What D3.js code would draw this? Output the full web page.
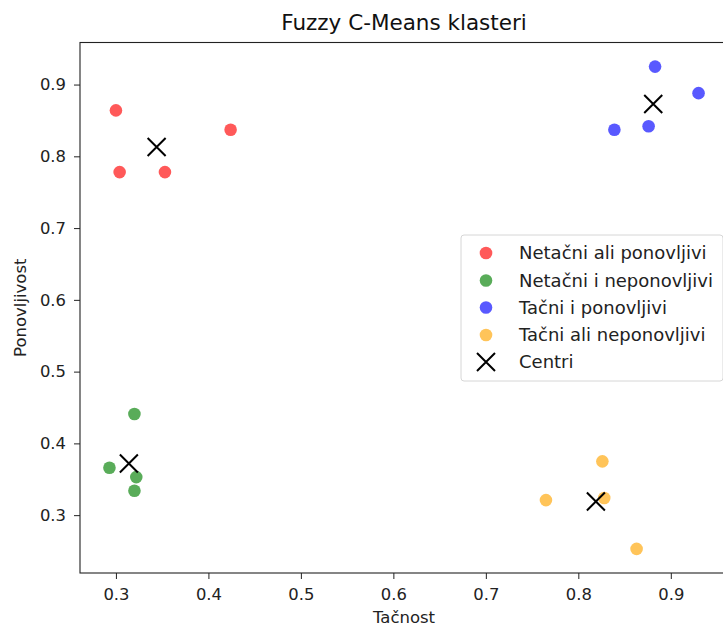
<!DOCTYPE html>
<html>
<head>
<meta charset="utf-8">
<script src="https://cdn.jsdelivr.net/npm/d3@7/dist/d3.min.js"></script>
<style>
  html, body { margin: 0; padding: 0; background: #fff; }
  svg { display: block; font-family: "DejaVu Sans", sans-serif; }
</style>
</head>
<body>
<svg id="chart" width="723" height="627"></svg>
<script>
// ---- Data ----
const categories = ["Netačni ali ponovljivi", "Netačni i neponovljivi", "Tačni i ponovljivi", "Tačni ali neponovljivi"];
const colors = ["#ff0000", "#008000", "#0000ff", "#ffa500"];

const redX = [0.300, 0.304, 0.353, 0.424];
const redY = [0.864, 0.778, 0.778, 0.837];
const greenX = [0.320, 0.293, 0.322, 0.320];
const greenY = [0.441, 0.366, 0.353, 0.334];
const blueX = [0.883, 0.930, 0.839, 0.876];
const blueY = [0.925, 0.888, 0.837, 0.842];
const orangeX = [0.826, 0.765, 0.828, 0.863];
const orangeY = [0.375, 0.321, 0.324, 0.253];

const centerX = [0.344, 0.314, 0.881, 0.819];
const centerY = [0.813, 0.372, 0.873, 0.319];
const centerLabel = "Centri";

const xTicks = [0.3, 0.4, 0.5, 0.6, 0.7, 0.8, 0.9];
const yTicks = [0.3, 0.4, 0.5, 0.6, 0.7, 0.8, 0.9];

const title = "Fuzzy C-Means klasteri";
const xLabel = "Tačnost";
const yLabel = "Ponovljivost";

// ---- Layout ----
const svg = d3.select("#chart");
const mLeft = 80, mTop = 42.5, mRight = 728, mBottom = 573;
const tickFont = 16.4, labelFont = 16.5, legendFont = 18, titleFont = 21.5;

const seriesX = [redX, greenX, blueX, orangeX];
const seriesY = [redY, greenY, blueY, orangeY];
const allX = seriesX.flat(), allY = seriesY.flat();
const [xmin, xmax] = d3.extent(allX), [ymin, ymax] = d3.extent(allY);
const xm = (xmax - xmin) * 0.05, ym = (ymax - ymin) * 0.05;

const x = d3.scaleLinear().domain([xmin - xm, xmax + xm]).range([mLeft, mRight]);
const y = d3.scaleLinear().domain([ymin - ym, ymax + ym]).range([mBottom, mTop]);

// points
const gPts = svg.append("g");
seriesX.forEach((xs, i) => {
  const pts = xs.map((v, j) => ({x: v, y: seriesY[i][j]}));
  gPts.selectAll(null).data(pts).enter().append("circle")
    .attr("cx", d => x(d.x)).attr("cy", d => y(d.y)).attr("r", 6.3)
    .attr("fill", colors[i]).attr("fill-opacity", 0.65);
});

// centers
const cs = 9;
const centers = centerX.map((v, j) => ({x: v, y: centerY[j]}));
const gC = svg.append("g");
centers.forEach(d => {
  const cx = x(d.x), cy = y(d.y);
  gC.append("path")
    .attr("d", `M${cx - cs},${cy - cs}L${cx + cs},${cy + cs}M${cx - cs},${cy + cs}L${cx + cs},${cy - cs}`)
    .attr("stroke", "#000").attr("stroke-width", 2).attr("fill", "none");
});

// axes
const xAxis = svg.append("g").attr("transform", `translate(0,${mBottom})`)
  .call(d3.axisBottom(x).tickValues(xTicks).tickFormat(d3.format(".1f")).tickSize(6).tickPadding(6));
const yAxis = svg.append("g").attr("transform", `translate(${mLeft},0)`)
  .call(d3.axisLeft(y).tickValues(yTicks).tickFormat(d3.format(".1f")).tickSize(6).tickPadding(8));
[xAxis, yAxis].forEach(a => {
  a.select(".domain").remove();
  a.selectAll("text").attr("font-size", tickFont).attr("fill", "#222").attr("font-family", "DejaVu Sans");
  a.selectAll("line").attr("stroke", "#222");
});
xAxis.selectAll("text").attr("y", 26.5).attr("dy", null);

// frame
svg.append("rect").attr("x", mLeft).attr("y", mTop).attr("width", mRight - mLeft).attr("height", mBottom - mTop)
  .attr("fill", "none").attr("stroke", "#222").attr("stroke-width", 1.1);

// title and labels
svg.append("text").attr("x", (mLeft + mRight) / 2).attr("y", 29.5).attr("text-anchor", "middle")
  .attr("font-size", titleFont).attr("fill", "#111").text(title);
svg.append("text").attr("x", 404).attr("y", 622.5).attr("text-anchor", "middle")
  .attr("font-size", labelFont).attr("fill", "#222").text(xLabel);
svg.append("text").attr("transform", `translate(26,${(mTop + mBottom) / 2}) rotate(-90)`)
  .attr("text-anchor", "middle").attr("font-size", labelFont).attr("fill", "#222").text(yLabel);

// legend
const lg = svg.append("g");
lg.append("rect").attr("x", 461).attr("y", 235).attr("width", 262).attr("height", 146)
  .attr("rx", 3).attr("fill", "#fff").attr("fill-opacity", 0.8).attr("stroke", "#d6d6d6");
const rowY = [253, 280.5, 307.5, 335, 362];
categories.forEach((c, i) => {
  lg.append("circle").attr("cx", 486).attr("cy", rowY[i]).attr("r", 6.3)
    .attr("fill", colors[i]).attr("fill-opacity", 0.65);
  lg.append("text").attr("x", 519).attr("y", rowY[i]).attr("dy", "0.35em")
    .attr("font-size", legendFont).attr("fill", "#222").text(c);
});
{
  const cx = 486, cy = rowY[4];
  lg.append("path")
    .attr("d", `M${cx - cs},${cy - cs}L${cx + cs},${cy + cs}M${cx - cs},${cy + cs}L${cx + cs},${cy - cs}`)
    .attr("stroke", "#000").attr("stroke-width", 2);
  lg.append("text").attr("x", 519).attr("y", cy).attr("dy", "0.35em")
    .attr("font-size", legendFont).attr("fill", "#222").text(centerLabel);
}
</script>
</body>
</html>
